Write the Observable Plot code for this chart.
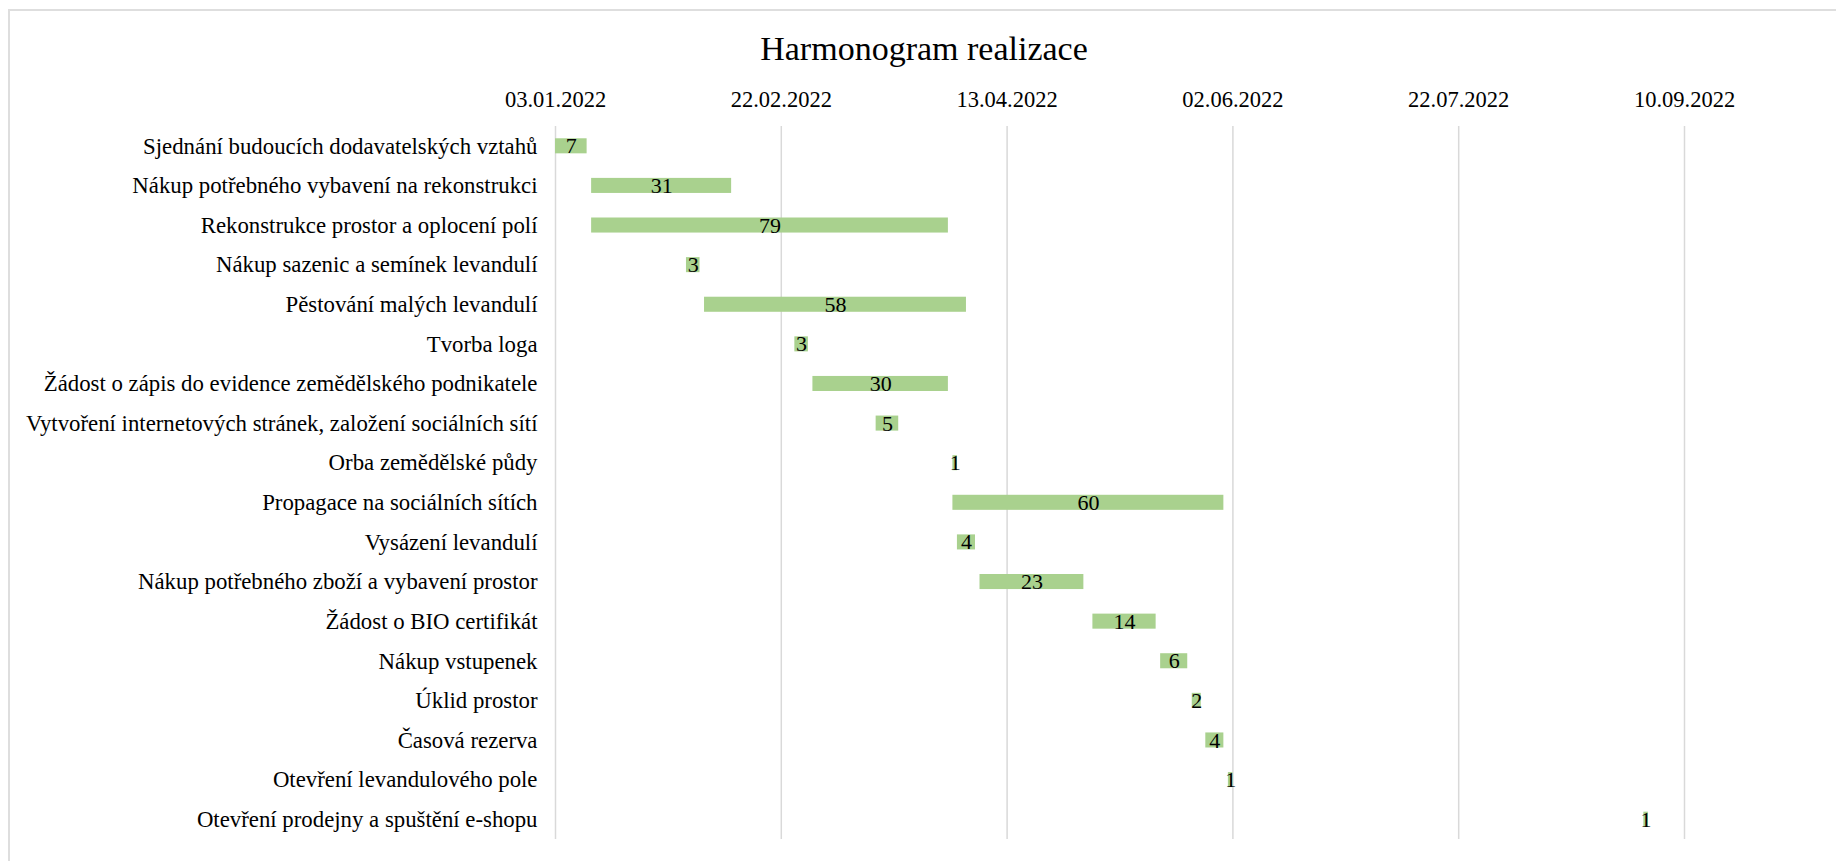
<!DOCTYPE html>
<html>
<head>
<meta charset="utf-8">
<script src="https://cdn.jsdelivr.net/npm/d3@7"></script>
<script src="https://cdn.jsdelivr.net/npm/@observablehq/plot@0.6"></script>
<style>
  html, body { margin: 0; padding: 0; background: #fff; }
  #wrap { position: relative; width: 1836px; height: 861px; overflow: hidden; background: #fff; }
  #frame { position: absolute; left: 8px; top: 9px; width: 1900px; height: 900px;
           border-top: 2px solid #dedede; border-left: 2px solid #dedede; box-sizing: border-box; }
  #title { position: absolute; left: 624px; width: 600px; top: 32px; text-align: center;
           font-family: "Liberation Serif", "Times New Roman", serif; font-size: 34px; line-height: 34px; color: #000; }
  #chart { position: absolute; left: 0; top: 0; }
  #chart svg, #chart svg text { font-family: "Liberation Serif", "Times New Roman", serif !important; }
  #chart g[aria-label="y-axis tick label"], #chart g[aria-label="y-axis tick label"] text { font-size: 22.8px !important; }
  #chart g[aria-label="x-axis tick label"], #chart g[aria-label="x-axis tick label"] text { font-size: 22.5px !important; }
</style>
</head>
<body>
<div id="wrap">
  <div id="frame"></div>
  <div id="chart"></div>
  <div id="title">Harmonogram realizace</div>
</div>
<script>
const tasks = [
  "Sjednání budoucích dodavatelských vztahů",
  "Nákup potřebného vybavení na rekonstrukci",
  "Rekonstrukce prostor a oplocení polí",
  "Nákup sazenic a semínek levandulí",
  "Pěstování malých levandulí",
  "Tvorba loga",
  "Žádost o zápis do evidence zemědělského podnikatele",
  "Vytvoření internetových stránek, založení sociálních sítí",
  "Orba zemědělské půdy",
  "Propagace na sociálních sítích",
  "Vysázení levandulí",
  "Nákup potřebného zboží a vybavení prostor",
  "Žádost o BIO certifikát",
  "Nákup vstupenek",
  "Úklid prostor",
  "Časová rezerva",
  "Otevření levandulového pole",
  "Otevření prodejny a spuštění e-shopu"
];
const startDates = [
  "2022-01-03", "2022-01-11", "2022-01-11", "2022-02-01", "2022-02-05", "2022-02-25",
  "2022-03-01", "2022-03-15", "2022-04-01", "2022-04-01", "2022-04-02", "2022-04-07",
  "2022-05-02", "2022-05-17", "2022-05-24", "2022-05-27", "2022-06-01", "2022-09-01"
];
const durations = [7, 31, 79, 3, 58, 3, 30, 5, 1, 60, 4, 23, 14, 6, 2, 4, 1, 1];
const tickDates = ["2022-01-03", "2022-02-22", "2022-04-13", "2022-06-02", "2022-07-22", "2022-09-10"];

const parse = d3.utcParse("%Y-%m-%d");
const fmt = d3.utcFormat("%d.%m.%Y");
const DAY = 864e5;

const data = tasks.map((task, i) => {
  const start = parse(startDates[i]);
  return {
    task,
    start,
    end: new Date(+start + durations[i] * DAY),
    mid: new Date(+start + durations[i] * DAY / 2),
    dur: durations[i]
  };
});
const ticks = tickDates.map(parse);

const chart = Plot.plot({
  width: 1836,
  height: 861,
  marginTop: 126,
  marginBottom: 22,
  marginLeft: 555,
  marginRight: 152,
  style: {
    fontFamily: "Liberation Serif",
    fontSize: "22px",
    color: "#000",
    background: "transparent",
    overflow: "visible"
  },
  x: {
    type: "utc",
    domain: [ticks[0], ticks[ticks.length - 1]],
    axis: "top",
    ticks: ticks,
    tickFormat: fmt,
    tickSize: 0,
    tickPadding: 20,
    label: null
  },
  y: {
    domain: tasks,
    paddingInner: 0.62,
    paddingOuter: 0.31,
    round: false,
    tickSize: 0,
    tickPadding: 18,
    label: null
  },
  marks: [
    Plot.ruleX(ticks, {stroke: "#d9d9d9", strokeWidth: 1.5}),
    Plot.barX(data, {x1: "start", x2: "end", y: "task", fill: "#a9d18e"}),
    Plot.text(data, {x: "mid", y: "task", text: d => String(d.dur), fill: "#000", fontSize: 22})
  ]
});
document.getElementById("chart").appendChild(chart);
</script>
</body>
</html>
